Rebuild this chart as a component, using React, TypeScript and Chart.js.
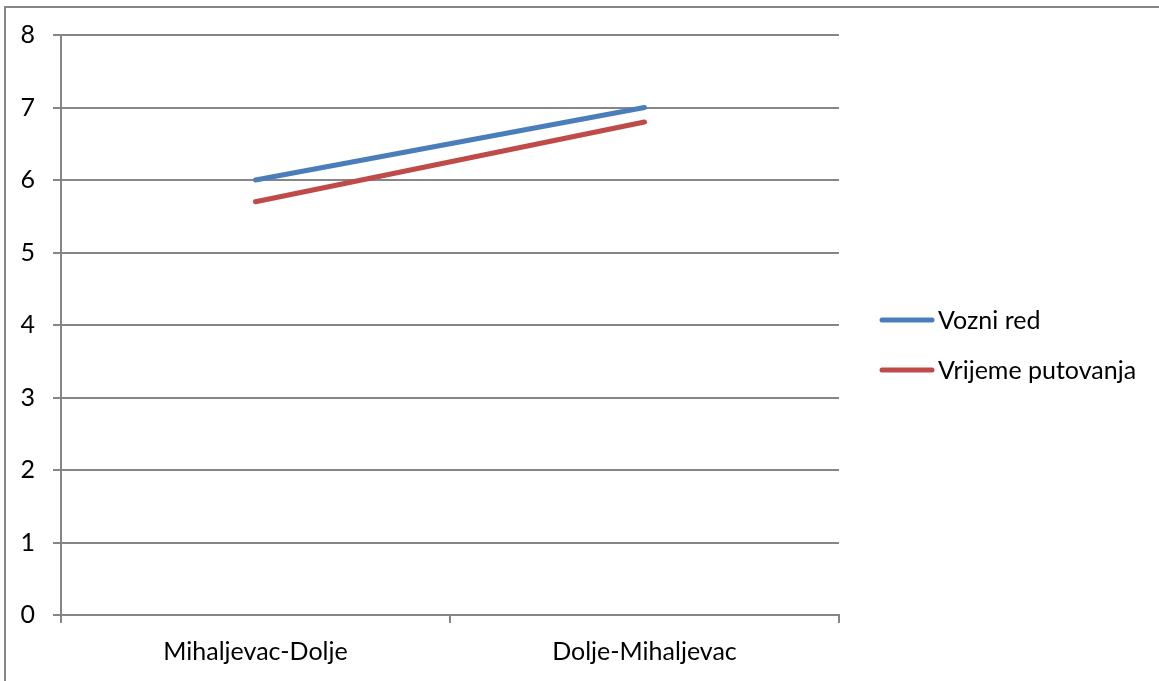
import React, { useEffect, useRef } from "react";
import { Chart, registerables } from "chart.js";

Chart.register(...registerables);

const categories = ["Mihaljevac-Dolje", "Dolje-Mihaljevac"];
const vozniRed = [6, 7];
const vrijemePutovanja = [5.7, 6.8];
const seriesLabels = ["Vozni red", "Vrijeme putovanja"];
const seriesColors = ["#4A7EBB", "#BE4B48"];

const FONT = "Lato, 'Open Sans', sans-serif";
const GRID = "#868686";

const frameAndLegend = {
  id: "frameAndLegend",
  afterDraw(chart: any) {
    const ctx = chart.ctx;
    ctx.save();
    ctx.strokeStyle = GRID;
    ctx.lineWidth = 2;
    ctx.strokeRect(5, 7, 1300, 800);
    const items = chart.data.datasets;
    items.forEach((ds: any, i: number) => {
      const y = 320 + i * 50;
      ctx.strokeStyle = ds.borderColor;
      ctx.lineWidth = 5;
      ctx.lineCap = "round";
      ctx.beginPath();
      ctx.moveTo(882, y);
      ctx.lineTo(932, y);
      ctx.stroke();
      ctx.fillStyle = "#000";
      ctx.font = `25px ${FONT}`;
      ctx.textBaseline = "middle";
      ctx.textAlign = "left";
      ctx.fillText(ds.label, 938, y + 1);
    });
    ctx.restore();
  },
};

export default function App() {
  const ref = useRef<HTMLCanvasElement>(null);
  useEffect(() => {
    document.body.style.margin = "0";
    const chart = new Chart(ref.current!, {
      type: "line",
      data: {
        labels: categories,
        datasets: [
          {
            label: seriesLabels[0],
            data: vozniRed,
            borderColor: seriesColors[0],
            backgroundColor: seriesColors[0],
            borderWidth: 5,
            borderCapStyle: "round",
            pointRadius: 0,
            tension: 0,
          },
          {
            label: seriesLabels[1],
            data: vrijemePutovanja,
            borderColor: seriesColors[1],
            backgroundColor: seriesColors[1],
            borderWidth: 5,
            borderCapStyle: "round",
            pointRadius: 0,
            tension: 0,
          },
        ],
      },
      options: {
        animation: false,
        responsive: false,
        layout: { padding: { left: 0, right: 320, top: 35, bottom: 0 } },
        plugins: { legend: { display: false }, tooltip: { enabled: false } },
        scales: {
          x: {
            type: "category",
            offset: true,
            afterFit: (s: any) => {
              s.height = 66;
            },
            grid: {
              offset: true,
              drawOnChartArea: false,
              drawTicks: true,
              tickLength: 8,
              color: GRID,
              lineWidth: 2,
            },
            border: { display: true, color: GRID, width: 2 },
            ticks: {
              color: "#000",
              font: { family: FONT, size: 25 },
              padding: 14,
              maxRotation: 0,
            },
          },
          y: {
            min: 0,
            max: 8,
            afterFit: (s: any) => {
              s.width = 61;
            },
            grid: {
              color: GRID,
              lineWidth: 2,
              drawTicks: true,
              tickLength: 8,
            },
            border: { display: true, color: GRID, width: 2 },
            ticks: {
              stepSize: 1,
              color: "#000",
              font: { family: FONT, size: 25 },
              padding: 18,
            },
          },
        },
      },
      plugins: [frameAndLegend],
    });
    return () => chart.destroy();
  }, []);
  return (
    <div style={{ width: 1159, height: 681 }}>
      <canvas ref={ref} width={1159} height={681} style={{ display: "block" }} />
    </div>
  );
}
